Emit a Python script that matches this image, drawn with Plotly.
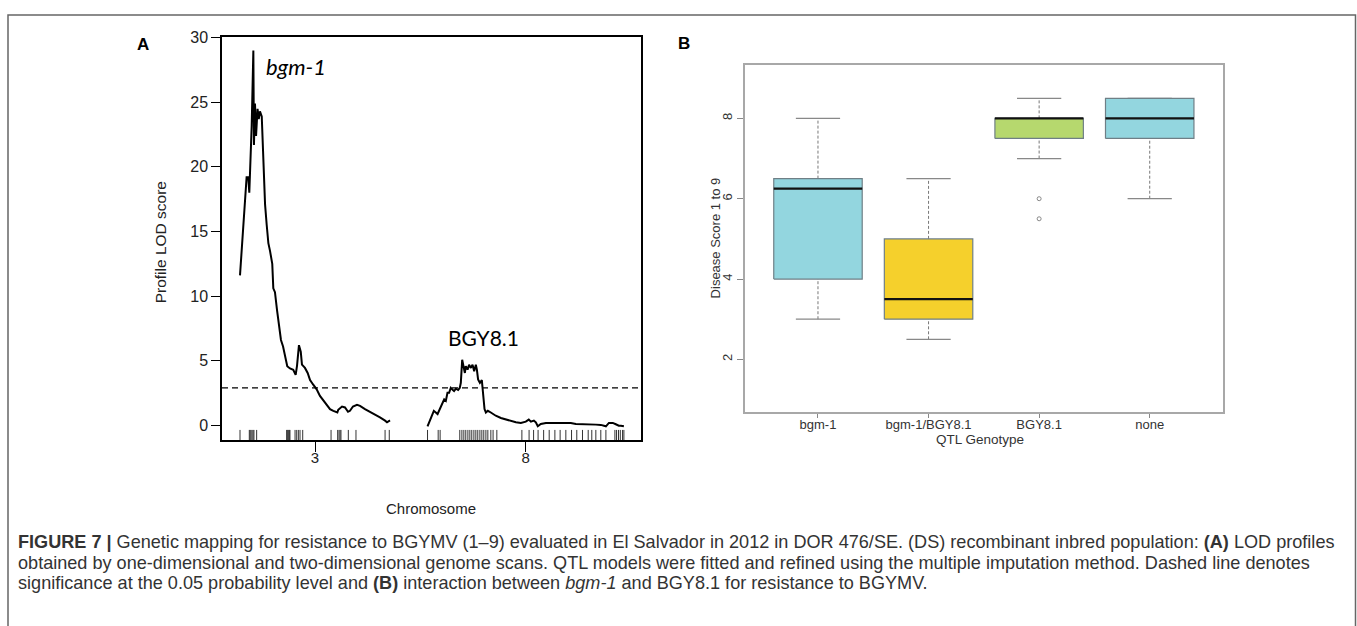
import plotly.graph_objects as go

W, H = 1357, 626

# ---------------- Panel A data (cM within chromosome, LOD) ----------------
chr_names = ["3", "8"]
chr_lengths = [100.0, 130.9]
chr_gap = 25.0

chr3_pos = [0, 2.2, 4.4, 5.5, 6.2, 7.8, 8.9, 9.3, 10.0, 10.7, 11.7, 12.5, 13.3, 14.5, 16.0,
            16.7, 17.8, 18.9, 20.0, 21.5, 22.2, 23.3, 24.7, 26.0, 27.3, 28.7, 30.0, 31.5,
            33.3, 35.5, 37.1, 38.0, 39.3, 40.5, 41.3, 43.3, 45.1, 46.7, 48.7, 51.1, 53.3,
            56.7, 60.0, 62.2, 64.9, 65.5, 68.0, 70.0, 72.0, 73.3, 75.3, 78.0, 80.0, 83.3,
            86.7, 90.0, 93.3, 96.7, 98.0, 100.0]
chr3_lod = [11.6, 15.5, 19.2, 19.2, 18.0, 23.2, 29.0, 21.7, 24.9, 22.4, 24.5, 23.7, 24.3, 23.9, 19.5,
            17.1, 15.5, 14.1, 13.5, 12.5, 10.6, 10.3, 8.9, 7.65, 6.6, 6.1, 5.3, 4.57,
            4.4, 4.3, 3.9, 4.6, 6.2, 5.7, 4.7, 4.44, 4.05, 3.5, 3.16, 2.78, 2.27,
            1.76, 1.25, 1.12, 0.99, 1.2, 1.45, 1.38, 1.05, 1.12, 1.45, 1.58, 1.5, 1.25,
            1.05, 0.82, 0.61, 0.36, 0.23, 0.38]

chr8_pos = [0, 2.2, 4.2, 6.7, 8.9, 11.1, 12.2, 13.3, 14.4, 15.5, 16.9, 17.7, 18.9, 20.4, 21.5,
            22.2, 23.1, 24.0, 24.9, 25.5, 26.7, 27.7, 28.9, 30.0, 31.1, 32.2, 32.9, 33.7,
            34.9, 36.2, 37.1, 38.0, 38.9, 40.2, 42.2, 45.5, 48.9, 52.2, 55.5, 58.9, 62.2,
            65.5, 67.5, 68.9, 70.9, 72.2, 73.5, 75.5, 78.9, 82.2, 85.5, 88.9, 92.2, 95.5,
            98.9, 102.2, 105.5, 108.9, 112.2, 115.5, 118.9, 120.9, 123.5, 125.5, 127.5,
            128.9, 130.9]
chr8_lod = [-0.08, 0.61, 1.12, 0.87, 1.5, 2.0, 1.89, 2.52, 2.52, 2.9, 2.73, 2.65, 2.83, 2.73, 2.9,
            3.29, 5.07, 4.57, 4.05, 4.57, 4.31, 4.69, 4.44, 4.69, 4.18, 4.69, 4.31, 3.55,
            3.29, 3.5, 2.52, 1.25, 0.99, 1.12, 0.99, 0.74, 0.56, 0.44, 0.36, 0.23, 0.18,
            0.28, 0.44, 0.28, 0.36, 0.23, -0.08, 0.10, 0.18, 0.18, 0.23, 0.18, 0.23, 0.18,
            0.10, 0.10, 0.10, 0.05, 0.05, 0.03, -0.08, 0.18, 0.18, 0.08, -0.03,
            -0.03, -0.08]

chr3_markers = [0, 6.2, 6.7, 7.3, 8.0, 8.7, 9.3, 11.1, 31.1, 31.5, 32.0, 32.5, 32.9, 33.3,
                36.7, 37.8, 38.9, 40.0, 41.8, 60.7, 65.1, 66.0, 66.7, 67.3, 72.2, 77.3,
                96.7, 99.5]
chr8_markers = [0, 7.1, 8.4, 21.5, 22.9, 24.2, 25.5, 26.9, 28.2, 29.5, 30.9, 32.2, 33.5, 34.9,
                36.2, 37.5, 38.9, 40.2, 42.2, 43.7, 46.2, 62.9, 67.7, 70.7, 73.7, 77.4, 81.1,
                84.9, 88.4, 92.2, 96.0, 99.5, 103.3, 107.1, 109.5, 112.2, 115.5, 118.9,
                124.9, 126.0, 127.3, 128.5, 130.0, 130.9]

lod_threshold = 2.9
peak_labels = ["bgm-1", "BGY8.1"]
lod_ticks = [0, 5, 10, 15, 20, 25, 30]

# ---------------- Panel B data ----------------
genotypes = ["bgm-1", "bgm-1/BGY8.1", "BGY8.1", "none"]
whisker_low = [3.0, 2.5, 7.0, 6.0]
q1 = [4.0, 3.0, 7.5, 7.5]
median = [6.25, 3.5, 8.0, 8.0]
q3 = [6.5, 5.0, 8.0, 8.5]
whisker_high = [8.0, 6.5, 8.5, 8.5]
outlier_group = ["BGY8.1", "BGY8.1"]
outlier_vals = [6.0, 5.5]
box_colors = ["#93d6df", "#f5d02c", "#b6d86e", "#93d6df"]
score_ticks = [2, 4, 6, 8]

# ---------------- helpers ----------------
def px(x):
    return x / W

def py(y):
    return 1 - y / H

offsets = [0.0, chr_lengths[0] + chr_gap]
fig = go.Figure()

# LOD curves
for pos, lod, off in [(chr3_pos, chr3_lod, offsets[0]), (chr8_pos, chr8_lod, offsets[1])]:
    fig.add_trace(go.Scatter(x=[p + off for p in pos], y=lod, mode="lines",
                             line=dict(color="black", width=2), xaxis="x", yaxis="y",
                             hoverinfo="skip", showlegend=False))

# rug of markers
rug_bottom = -1.148
rug_top = -0.36
rx, ry = [], []
for mk, off in [(chr3_markers, offsets[0]), (chr8_markers, offsets[1])]:
    for m in mk:
        rx += [m + off, m + off, None]
        ry += [rug_bottom, rug_top, None]
fig.add_trace(go.Scatter(x=rx, y=ry, mode="lines", line=dict(color="#333333", width=1),
                         xaxis="x", yaxis="y", hoverinfo="skip", showlegend=False))

# threshold line
fig.add_shape(type="line", xref="x domain", x0=0, x1=1, yref="y", y0=lod_threshold,
              y1=lod_threshold, line=dict(color="black", width=1.3, dash="6px,4px"))

chr_mids = [offsets[i] + chr_lengths[i] / 2 for i in range(2)]

# ---------------- Panel B boxes ----------------
for i, g in enumerate(genotypes):
    p = i + 1
    fig.add_trace(go.Scatter(x=[p, p, None, p, p], y=[whisker_low[i], q1[i], None, q3[i], whisker_high[i]],
                             mode="lines", line=dict(color="#777777", width=1, dash="3px,2px"),
                             xaxis="x2", yaxis="y2", hoverinfo="skip", showlegend=False))
    fig.add_trace(go.Scatter(x=[p - 0.2, p + 0.2, None, p - 0.2, p + 0.2],
                             y=[whisker_low[i], whisker_low[i], None, whisker_high[i], whisker_high[i]],
                             mode="lines", line=dict(color="#888888", width=1.2),
                             xaxis="x2", yaxis="y2", hoverinfo="skip", showlegend=False))
    fig.add_trace(go.Scatter(x=[p - 0.4, p + 0.4, p + 0.4, p - 0.4, p - 0.4],
                             y=[q1[i], q1[i], q3[i], q3[i], q1[i]], mode="lines", fill="toself",
                             fillcolor=box_colors[i], line=dict(color="#6f7f86", width=1.2),
                             xaxis="x2", yaxis="y2", hoverinfo="skip", showlegend=False))
    fig.add_trace(go.Scatter(x=[p - 0.4, p + 0.4], y=[median[i], median[i]], mode="lines",
                             line=dict(color="#111111", width=2.4),
                             xaxis="x2", yaxis="y2", hoverinfo="skip", showlegend=False))

fig.add_trace(go.Scatter(x=[genotypes.index(g) + 1 for g in outlier_group], y=outlier_vals,
                         mode="markers", marker=dict(symbol="circle-open", size=4, color="#888888",
                                                      line=dict(width=1)),
                         xaxis="x2", yaxis="y2", hoverinfo="skip", showlegend=False))

axfont = dict(family="Liberation Sans, Arial, sans-serif", size=16, color="#222222")
bfont = dict(family="Liberation Sans, Arial, sans-serif", size=13, color="#333333")

fig.update_layout(
    width=W, height=H, margin=dict(l=0, r=0, t=0, b=0),
    paper_bgcolor="white", plot_bgcolor="white", showlegend=False,
    xaxis=dict(domain=[px(222), px(641)], range=[-12, 267.3], showgrid=False, zeroline=False,
               showline=True, mirror=True, linecolor="black", linewidth=1.5,
               tickmode="array", tickvals=chr_mids, ticktext=chr_names,
               ticks="outside", ticklen=10, tickwidth=1.3, tickcolor="black",
               tickfont=dict(family="Liberation Sans, Arial", size=15, color="#222222"),
               ticklabelstandoff=-7, anchor="y"),
    yaxis=dict(domain=[py(438), py(30)], range=[-1.148, 30.08], showgrid=False, zeroline=False,
               showline=True, mirror=True, linecolor="black", linewidth=1.5,
               tickmode="array", tickvals=lod_ticks, ticks="outside", ticklen=9, tickwidth=1.3,
               tickcolor="black", tickfont=axfont, anchor="x"),
    xaxis2=dict(domain=[px(745), px(1222.7)], range=[0.34, 4.66], showgrid=False, zeroline=False,
                showline=True, mirror=True, linecolor="#a8a8a8", linewidth=1.5,
                tickmode="array", tickvals=[1, 2, 3, 4], ticktext=genotypes,
                ticks="outside", ticklen=4, tickcolor="#888888", tickfont=bfont,
                ticklabelstandoff=-5, anchor="y2"),
    yaxis2=dict(domain=[py(410), py(59)], range=[0.68, 9.32], showgrid=False, zeroline=False,
                showline=True, mirror=True, linecolor="#a8a8a8", linewidth=1.5,
                tickmode="array", tickvals=score_ticks, tickangle=-90,
                ticks="outside", ticklen=6, tickcolor="#888888", tickfont=bfont, anchor="x2"),
)

# outer frame
fig.add_shape(type="rect", xref="paper", yref="paper", x0=px(8), x1=px(1355.5), y0=-0.2, y1=py(8),
              line=dict(color="#666666", width=1.5), fillcolor="rgba(0,0,0,0)", layer="above")

ann = []
ann.append(dict(text="<b>A</b>", x=px(143), y=py(38), font=dict(family="Liberation Sans, Arial", size=17, color="black")))
ann.append(dict(text="<b>B</b>", x=px(684), y=py(37), font=dict(family="Liberation Sans, Arial", size=17, color="black")))
ann.append(dict(text="<i>" + peak_labels[0] + "</i>", x=px(296), y=py(60), font=dict(family="Lato, Noto Sans", size=22, color="black")))
ann.append(dict(text=peak_labels[1], x=px(483), y=py(334), font=dict(family="Lato, Noto Sans", size=21, color="black")))
ann.append(dict(text="Profile LOD score", x=px(160), y=py(238), textangle=-90,
                font=dict(family="Liberation Sans, Arial", size=15.5, color="#222222")))
ann.append(dict(text="Chromosome", x=px(431), y=py(507), font=dict(family="Liberation Sans, Arial", size=15, color="#222222")))
ann.append(dict(text="Disease Score 1 to 9", x=px(715), y=py(234), textangle=-90, font=dict(family="Liberation Sans, Arial", size=13, color="#333333")))
ann.append(dict(text="QTL Genotype", x=px(980), y=py(437), font=dict(family="Liberation Sans, Arial", size=13.5, color="#333333")))

cap_font = dict(family="Liberation Sans, Arial", size=18.1, color="#333333")
caption = [
    "<b>FIGURE 7 |</b> Genetic mapping for resistance to BGYMV (1–9) evaluated in El Salvador in 2012 in DOR 476/SE. (DS) recombinant inbred population: <b>(A)</b> LOD profiles",
    "obtained by one-dimensional and two-dimensional genome scans. QTL models were fitted and refined using the multiple imputation method. Dashed line denotes",
    "significance at the 0.05 probability level and <b>(B)</b> interaction between <i>bgm-1</i> and BGY8.1 for resistance to BGYMV.",
]
for line, yy in zip(caption, [541, 562, 583]):
    ann.append(dict(text=line, x=px(16), y=py(yy), xanchor="left", font=cap_font))

for a in ann:
    a.setdefault("xanchor", "center")
    a.update(xref="paper", yref="paper", yanchor="middle", showarrow=False)
    fig.add_annotation(**a)

fig.write_html("out.html")
